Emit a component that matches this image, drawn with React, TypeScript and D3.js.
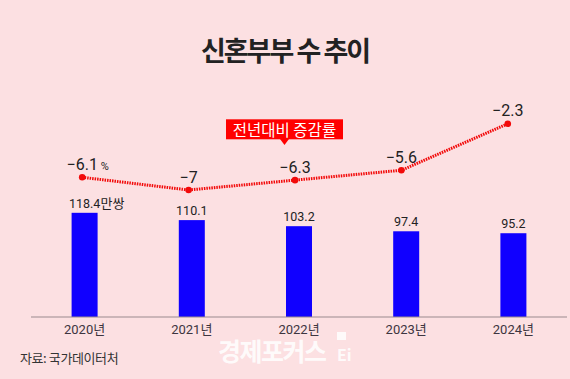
import React from "react";
import * as d3 from "d3";

const W = 570;
const H = 379;

const years = ["2020년", "2021년", "2022년", "2023년", "2024년"];
const couples = [118.4, 110.1, 103.2, 97.4, 95.2];
const changeRate = [-6.1, -7, -6.3, -5.6, -2.3];
const titleText = "신혼부부 수 추이";
const calloutText = "전년대비 증감률";
const sourceText = "자료: 국가데이터처";
const unitText = "만쌍";
const watermarkText = "경제포커스";

const FONT = "'Noto Sans CJK KR', 'Noto Sans', sans-serif";
const NUMFONT = "Roboto, 'Noto Sans CJK KR', sans-serif";
const BG = "#fce0e2";
const BLUE = "#1000ff";
const RED = "#f20a0a";

const fmt = (v: number) => (v < 0 ? "\u2212" + String(Math.abs(v)) : String(v));

export default function App() {
  const x = d3.scalePoint<string>().domain(years).range([31, 567]).padding(0.5);
  const xLine = d3.scalePoint<string>().domain(years).range([29, 561]).padding(0.5);
  const yBar = d3.scaleLinear().domain([0, 120]).range([317, 211.4]);
  const yLine = d3.scaleLinear().domain([-10, 0]).range([232.3, 91.3]);
  const barW = 26;

  const linePath = d3
    .line<number>()
    .x((_, i) => xLine(years[i]) as number)
    .y((d) => yLine(d))(changeRate) as string;

  const calloutCx = 284.5;

  return (
    <svg width={W} height={H} style={{ position: "absolute", left: 0, top: 0, display: "block" }}>
      <rect x={0} y={0} width={W} height={H} fill={BG} />
      <text x={285} y={61} textAnchor="middle" fontFamily={FONT} fontWeight={700} fontSize={27} letterSpacing={-2} fill="#222">
        {titleText}
      </text>

      {/* bars */}
      {couples.map((v, i) => {
        const cx = x(years[i]) as number;
        return (
          <g key={years[i]}>
            <rect x={cx - barW / 2} y={yBar(v)} width={barW} height={yBar(0) - yBar(v)} fill={BLUE} />
            <text x={cx} y={yBar(v) - 5} textAnchor="middle" fontFamily={NUMFONT} fontSize={12.5} fill="#222">
              {String(v)}
            </text>
            {i === 0 && (
              <text x={cx + 16} y={yBar(v) - 5} textAnchor="start" fontFamily={FONT} fontSize={13} fill="#222">
                {unitText}
              </text>
            )}
            <text x={cx} y={333.5} textAnchor="middle" fontFamily={NUMFONT} fontSize={13} fill="#3d3540">
              {years[i]}
            </text>
          </g>
        );
      })}

      {/* axis */}
      <line x1={31} x2={567} y1={yBar(0)} y2={yBar(0)} stroke="#9a8a8e" strokeWidth={1} />

      {/* line */}
      <path d={linePath} fill="none" stroke={RED} strokeWidth={3} strokeDasharray="1.5 1" />
      {changeRate.map((v, i) => {
        const cx = xLine(years[i]) as number;
        return (
          <g key={"p" + i}>
            <circle cx={cx} cy={yLine(v)} r={3.3} fill={RED} />
            <text x={cx} y={yLine(v) - 7.5} textAnchor="middle" fontFamily={NUMFONT} fontSize={16} fill="#222">
              {fmt(v)}
            </text>
            {i === 0 && (
              <text x={cx + 18.5} y={yLine(v) - 7.5} textAnchor="start" fontFamily={NUMFONT} fontSize={11} fill="#222">
                %
              </text>
            )}
          </g>
        );
      })}

      {/* callout */}
      <rect x={226} y={119.3} width={117} height={20} fill="#ff0000" />
      <path d={`M${calloutCx - 4.5},139 L${calloutCx + 4.5},139 L${calloutCx},145 Z`} fill="#ff0000" />
      <text x={calloutCx} y={135.5} textAnchor="middle" fontFamily={FONT} fontSize={15.5} fill="#fff">
        {calloutText}
      </text>

      {/* source */}
      <text x={20} y={363} fontFamily={FONT} fontSize={13} letterSpacing={-0.4} fill="#333">
        {sourceText}
      </text>

      {/* watermark */}
      <g opacity={0.85}>
        <text x={218} y={361} fontFamily={FONT} fontWeight={700} fontSize={25} letterSpacing={-1.5} fill="#fff">
          {watermarkText}
        </text>
        <rect x={337} y={332} width={9} height={8} fill="#fff" />
        <text x={337} y={361} fontFamily={FONT} fontWeight={700} fontSize={16} fill="#fff">
          Ei
        </text>
      </g>
    </svg>
  );
}
